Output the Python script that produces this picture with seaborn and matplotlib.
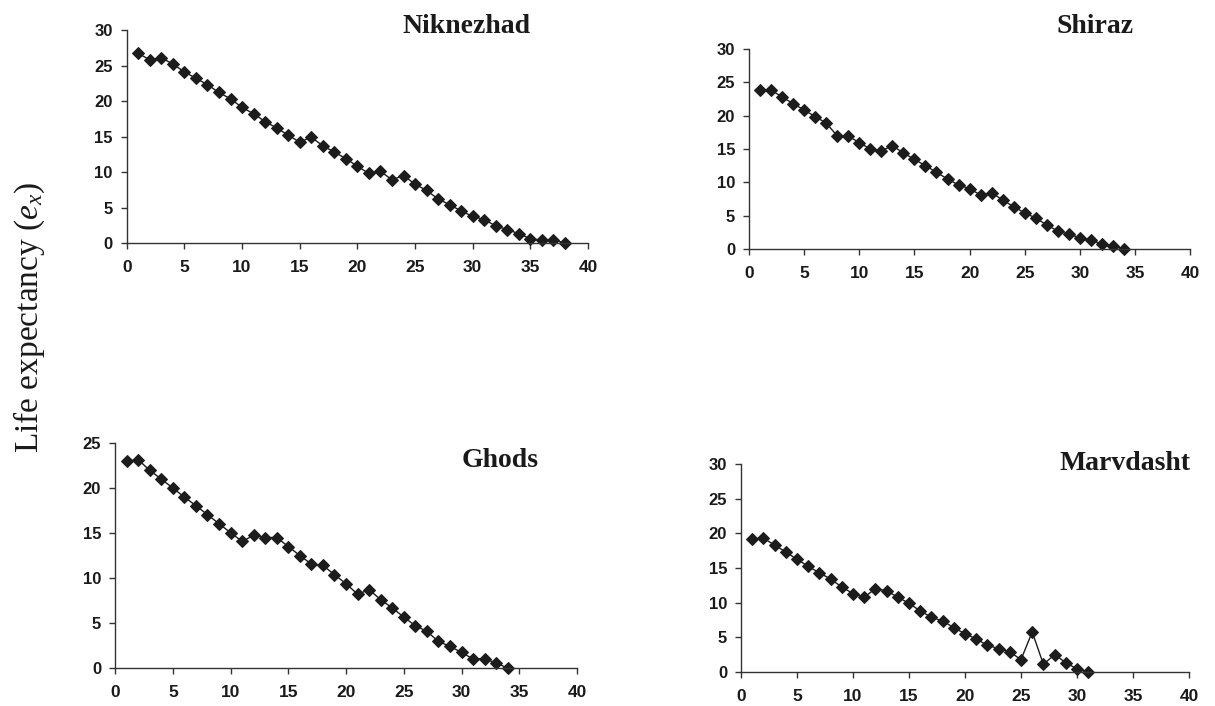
import numpy as np
import pandas as pd
import seaborn as sns
import matplotlib
matplotlib.use("Agg")
import matplotlib.pyplot as plt

# Life expectancy (e_x) per age interval
niknezhad = [26.7, 25.8, 26.1, 25.2, 24.1, 23.2, 22.3, 21.2, 20.3, 19.1,
             18.2, 17.1, 16.2, 15.2, 14.2, 14.9, 13.7, 12.8, 11.9, 10.8,
             9.8, 10.1, 8.9, 9.5, 8.3, 7.4, 6.2, 5.4, 4.5, 3.75,
             3.3, 2.4, 1.9, 1.3, 0.6, 0.4, 0.45, 0.0]
shiraz = [23.8, 23.85, 22.8, 21.8, 20.85, 19.85, 18.9, 16.95, 16.95, 15.95,
          15.0, 14.7, 15.5, 14.4, 13.45, 12.5, 11.5, 10.5, 9.6, 9.05,
          8.1, 8.45, 7.35, 6.35, 5.4, 4.65, 3.6, 2.7, 2.2, 1.7,
          1.3, 0.75, 0.5, 0.0]
ghods = [22.96, 23.15, 21.96, 21.0, 20.0, 19.0, 18.04, 17.04, 16.04, 15.04,
         14.07, 14.74, 14.5, 14.5, 13.5, 12.5, 11.55, 11.4, 10.37, 9.37,
         8.2, 8.7, 7.6, 6.67, 5.67, 4.7, 4.07, 2.96, 2.4, 1.74,
         1.0, 1.04, 0.55, 0.0]
marvdasht = [19.2, 19.3, 18.3, 17.3, 16.25, 15.24, 14.3, 13.4, 12.26, 11.3,
             10.8, 12.0, 11.7, 10.8, 9.9, 8.8, 7.9, 7.35, 6.4, 5.5,
             4.76, 3.85, 3.37, 2.9, 1.78, 5.77, 1.1, 2.5, 1.35, 0.43,
             0.0]

names = ["Niknezhad", "Shiraz", "Ghods", "Marvdasht"]
series = [niknezhad, shiraz, ghods, marvdasht]
ymax = [30, 30, 25, 30]

sns.set_style("ticks")
plt.rcParams["font.family"] = ["Liberation Sans", "DejaVu Sans"]
plt.rcParams["mathtext.fontset"] = "custom"
plt.rcParams["mathtext.rm"] = "Liberation Serif"
plt.rcParams["mathtext.it"] = "Liberation Serif:italic"

fig = plt.figure(figsize=(12.15, 7.06), dpi=100)

# axes boxes [left, bottom, width, height] in figure fraction
boxes = [[0.1043, 0.6558, 0.3797, 0.3017],
         [0.6165, 0.6473, 0.3630, 0.2833],
         [0.0947, 0.0538, 0.3802, 0.3187],
         [0.6099, 0.0482, 0.3687, 0.2946]]
title_pos = [(0.384, 0.962), (0.901, 0.962), (0.4115, 0.348), (0.926, 0.344)]

ink = "#1c1c1c"
for name, vals, top, box, tp in zip(names, series, ymax, boxes, title_pos):
    ax = fig.add_axes(box)
    df = pd.DataFrame({"age": np.arange(1, len(vals) + 1), "ex": vals})
    sns.lineplot(data=df, x="age", y="ex", ax=ax, color=ink, linewidth=1.0,
                 marker="D", markersize=6.5, markeredgecolor=ink,
                 markerfacecolor=ink, clip_on=False)
    ax.set_xlim(0, 40)
    ax.set_ylim(0, top)
    ax.set_xticks(range(0, 41, 5))
    ax.set_yticks(range(0, top + 1, 5))
    ax.set_xlabel("")
    ax.set_ylabel("")
    sns.despine(ax=ax)
    for s in ["left", "bottom"]:
        ax.spines[s].set_linewidth(1.0)
        ax.spines[s].set_color("#333333")
    ax.tick_params(axis="both", length=4, width=1.0, color="#333333", pad=6)
    ax.tick_params(axis="x", pad=8, labelsize=12.5)
    ax.tick_params(axis="y", labelsize=12)
    for lab in ax.get_xticklabels() + ax.get_yticklabels():
        lab.set_fontweight("bold")
        lab.set_color("#1a1a1a")
    fig.text(tp[0], tp[1], name, ha="center", va="center",
             family="Liberation Serif", fontweight="bold", fontsize=20,
             color="#1a1a1a")

fig.text(0.024, 0.55, "Life expectancy ($e_x$)", rotation=90,
         ha="center", va="center", family="Liberation Serif", fontsize=24,
         color="#1a1a1a")

fig.savefig("out.png", dpi=100)
